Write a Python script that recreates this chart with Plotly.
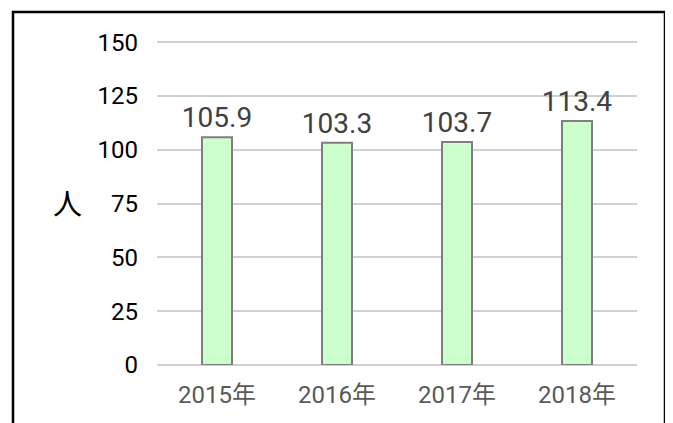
import plotly.graph_objects as go

categories = ["2015年", "2016年", "2017年", "2018年"]
values = [105.9, 103.3, 103.7, 113.4]
y_ticks = [0, 25, 50, 75, 100, 125, 150]
y_title = "人"

# page has an 8px default body margin; figure is sized to fit the window
OFF = 8
W, H = 673 - OFF, 423 - OFF
L, R, T, B = 157 - OFF, 36, 30, 58
pw, ph = W - L - R, H - T - B

def px_x(x):
    return (x - OFF - L) / pw

def px_y(y):
    return (H - B - (y - OFF)) / ph

fig = go.Figure()
fig.add_trace(go.Bar(
    x=list(range(len(categories))),
    y=values,
    width=0.25,
    marker=dict(color="#CCFFCC", line=dict(color="#7F7F7F", width=2)),
    text=[f"{v:.1f}" for v in values],
    textposition="outside",
    constraintext="none",
    textfont=dict(family="Roboto, 'Noto Sans CJK JP'", size=28, color="#404040"),
    cliponaxis=False,
))

fig.update_layout(
    width=W, height=H,
    margin=dict(l=L, r=R, t=T, b=B),
    plot_bgcolor="white", paper_bgcolor="white",
    showlegend=False,
    xaxis=dict(
        tickmode="array",
        tickvals=list(range(len(categories))),
        ticktext=categories,
        range=[-0.5, 3.5],
        showgrid=False, zeroline=False, showline=False,
        ticks="", ticklabelstandoff=13,
        tickfont=dict(family="Roboto, 'Noto Sans CJK JP'", size=24, color="#595959"),
    ),
    yaxis=dict(
        range=[0, 152],
        tickvals=y_ticks,
        showgrid=True, gridcolor="#D0D0D0", gridwidth=2,
        zeroline=True, zerolinecolor="#D0D0D0", zerolinewidth=2,
        showline=False, ticks="", ticklabelstandoff=18,
        tickfont=dict(family="Roboto, 'Noto Sans CJK JP'", size=24, color="#000000"),
    ),
    annotations=[dict(
        text=y_title, xref="paper", yref="paper",
        x=px_x(67), y=px_y(202), xanchor="center", yanchor="middle",
        showarrow=False,
        font=dict(family="'Noto Sans CJK JP'", size=29, color="#000000"),
    )],
    shapes=[dict(
        type="rect", xref="paper", yref="paper",
        x0=px_x(13), x1=px_x(665), y0=px_y(440), y1=px_y(12),
        line=dict(color="#000000", width=2.5), fillcolor="rgba(0,0,0,0)",
        layer="above",
    )],
)

fig.write_html("out.html")
